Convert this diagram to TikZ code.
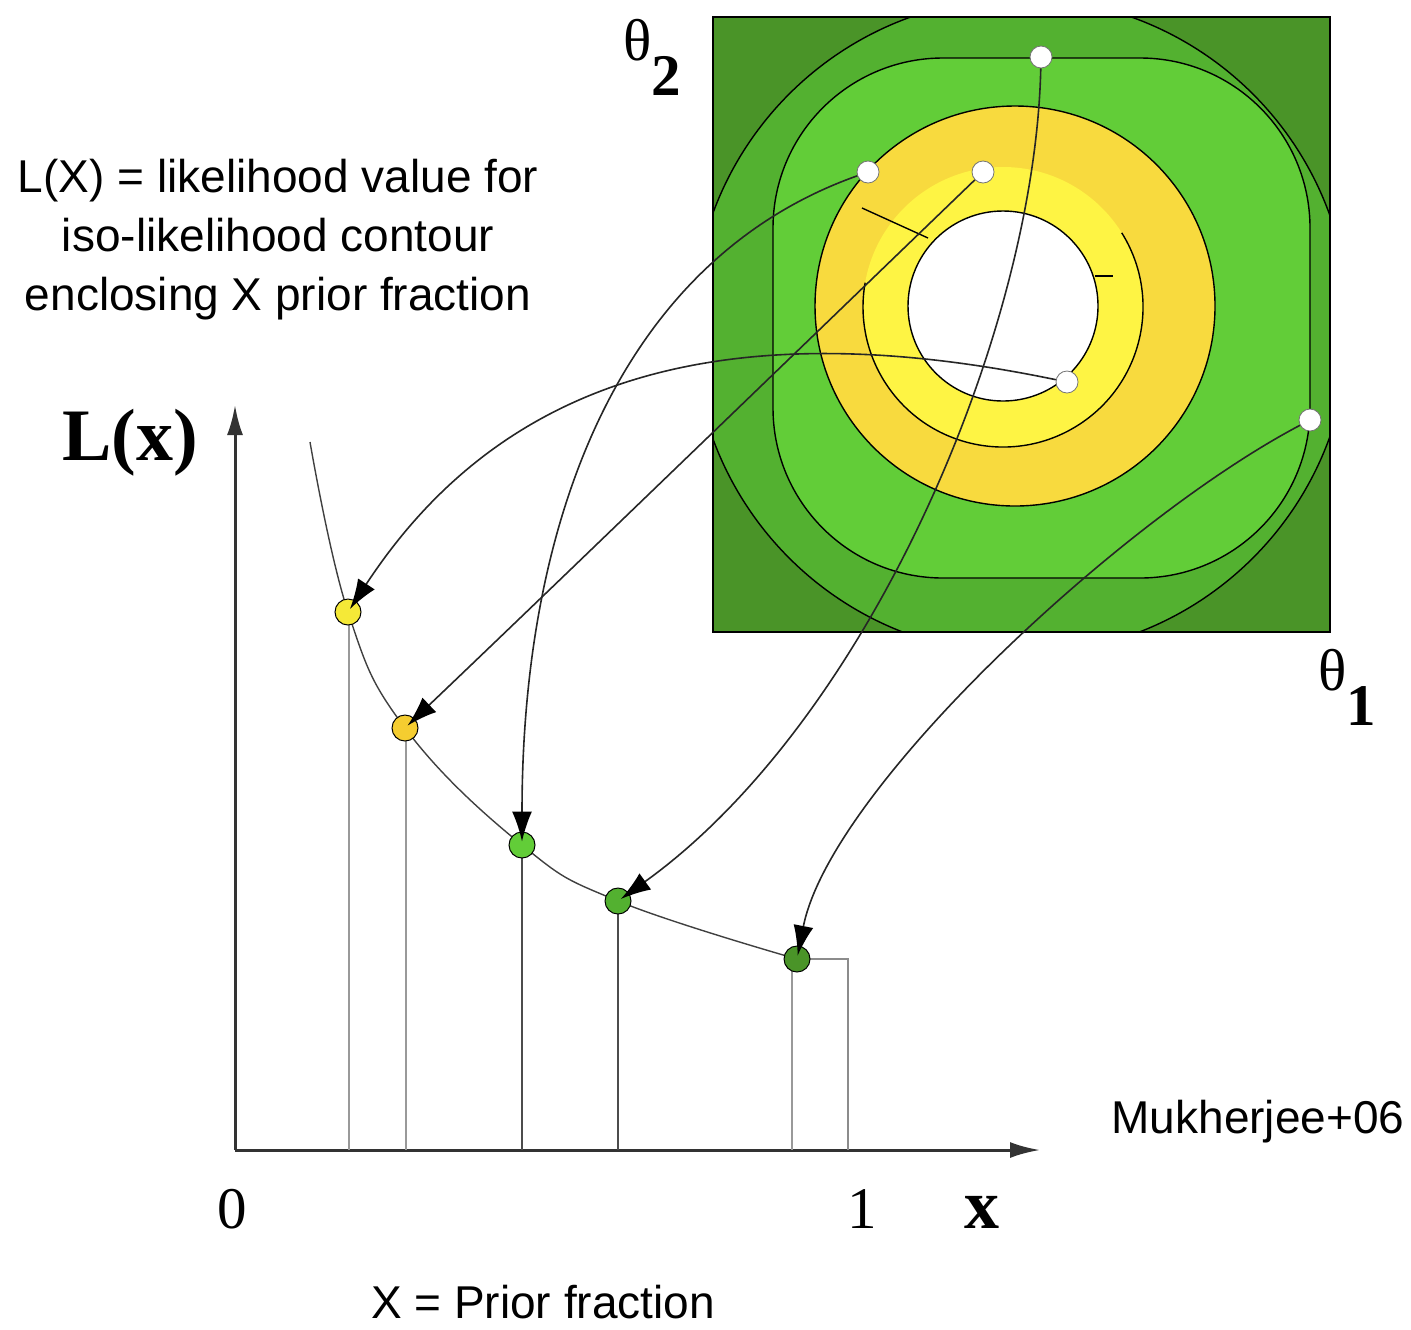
\documentclass[tikz,border=0pt]{standalone}
\usepackage{amsmath,amssymb}
\usepackage{fontspec}
\usetikzlibrary{arrows.meta}
\newfontfamily\notefont{Liberation Sans}
\newfontfamily\symfont{Liberation Serif}
\definecolor{darkgreen}{HTML}{4A9428}
\definecolor{midgreen}{HTML}{53B130}
\definecolor{lightgreen}{HTML}{62CD38}
\definecolor{goldring}{HTML}{F8DA3E}
\definecolor{paleyellow}{HTML}{FEF444}
\definecolor{dotyellow}{HTML}{F5E937}
\definecolor{dotgold}{HTML}{F5CD30}

\begin{document}
\begin{tikzpicture}[x=0.5pt,y=-0.5pt]
\tikzstyle{sample}=[circle,draw=black!55,fill=white,line width=0.4pt,minimum size=11pt,inner sep=0pt]
\tikzstyle{level}=[circle,draw=black,line width=0.5pt,minimum size=13pt,inner sep=0pt]
\tikzstyle{contour}=[draw=black,line width=0.7pt]
\tikzstyle{map}=[draw=black!85,line width=0.8pt,-{Latex[length=15pt,width=10pt,black]},shorten >=-5pt]
\tikzstyle{drop}=[line width=1pt]
\tikzstyle{axisline}=[draw=black!80,line width=1.5pt,-{Latex[length=15pt,width=8pt]}]
\tikzstyle{note}=[font=\notefont\fontsize{23}{29.5}\selectfont,align=center]
\tikzstyle{sym}=[font=\symfont\fontsize{29.5}{30}\selectfont]
\useasboundingbox (0,0) rectangle (1411,1329);

% likelihood contours in the theta plane
\fill[darkgreen] (713,17) rectangle (1330,632);
\begin{scope}
\clip (713,17) rectangle (1330,632);
\filldraw[contour,fill=midgreen] (1021,326) circle[radius=328];
\end{scope}
\filldraw[contour,fill=lightgreen,rounded corners=85pt] (773,58) rectangle (1310,578);
\filldraw[contour,fill=goldring] (1015,306) circle[radius=200];
\fill[paleyellow] (1003,307) circle[radius=140];
\draw[contour] (1003,307) ++(-32:140) arc[start angle=-32,end angle=190,radius=140];
\draw[contour] (862,208) -- (928,238);
\draw[contour] (1095,276) -- (1113,276);
\filldraw[contour,fill=white] (1003,306) circle[radius=95];
\draw[line width=1.2pt] (713,17) rectangle (1330,632);

% axes
\draw[axisline] (235,1150) -- (235,405);
\draw[axisline] (235,1150) -- (1040,1150);

% L(X) curve
\coordinate (c0) at (310,442);
\coordinate (c1) at (348,612);
\coordinate (c2) at (405,728);
\coordinate (c3) at (522,845);
\coordinate (c4) at (618,901);
\coordinate (c5) at (797,959);
\foreach \x/\y/\c in {349/612/black!40,406/728/black!40,522/845/black!70,618/901/black!70,792/959/black!40}
  \draw[drop,\c] (\x,\y) -- (\x,1150);
\draw[drop,black!45] (c5) -- (848,959) -- (848,1150);
\draw[line width=0.7pt,black!75] plot[smooth,tension=0.7] coordinates {(c0) (c1) (c2) (c3) (c4) (c5)};

\node[level,fill=dotyellow] (q1) at (c1) {};
\node[level,fill=dotgold] (q2) at (c2) {};
\node[level,fill=lightgreen] (q3) at (c3) {};
\node[level,fill=midgreen] (q4) at (c4) {};
\node[level,fill=darkgreen] (q5) at (c5) {};

\node[sample] (p1) at (1041,57) {};
\node[sample] (p2) at (868,172) {};
\node[sample] (p3) at (983,172) {};
\node[sample] (p4) at (1067,382) {};
\node[sample] (p5) at (1310,420) {};

\draw[map] (p4) .. controls (720,310) and (500,380) .. (q1);
\draw[map] (p3) .. controls (850,300) and (550,590) .. (q2);
\draw[map] (p2) .. controls (620,260) and (522,520) .. (q3);
\draw[map] (p1) .. controls (1035,330) and (870,720) .. (q4);
\draw[map] (p5) .. controls (1120,520) and (830,790) .. (q5);

% labels
\node[note] (caption) at (278,240) {L(X) = likelihood value for\\iso-likelihood contour\\enclosing X prior fraction};
\node[note,anchor=base] (xname) at (543,1318) {X = Prior fraction};
\node[note,anchor=base] (cite) at (1258,1133) {Mukherjee+06};
\node[anchor=base,font=\symfont\bfseries\fontsize{37}{37}\selectfont] (ylab) at (130,460) {L(x)};
\node[sym,anchor=base] (zero) at (232,1228) {0};
\node[sym,anchor=base] (one) at (862,1228) {1};
\node[anchor=base,font=\symfont\bfseries\fontsize{35}{35}\selectfont] (xlab) at (982,1228) {x};
\node[sym,anchor=base] (th2) at (652,60) {θ\raisebox{-17.5pt}{\bfseries 2}};
\node[sym,anchor=base] (th1) at (1347,690) {θ\raisebox{-17.5pt}{\bfseries 1}};
\end{tikzpicture}
\end{document}
